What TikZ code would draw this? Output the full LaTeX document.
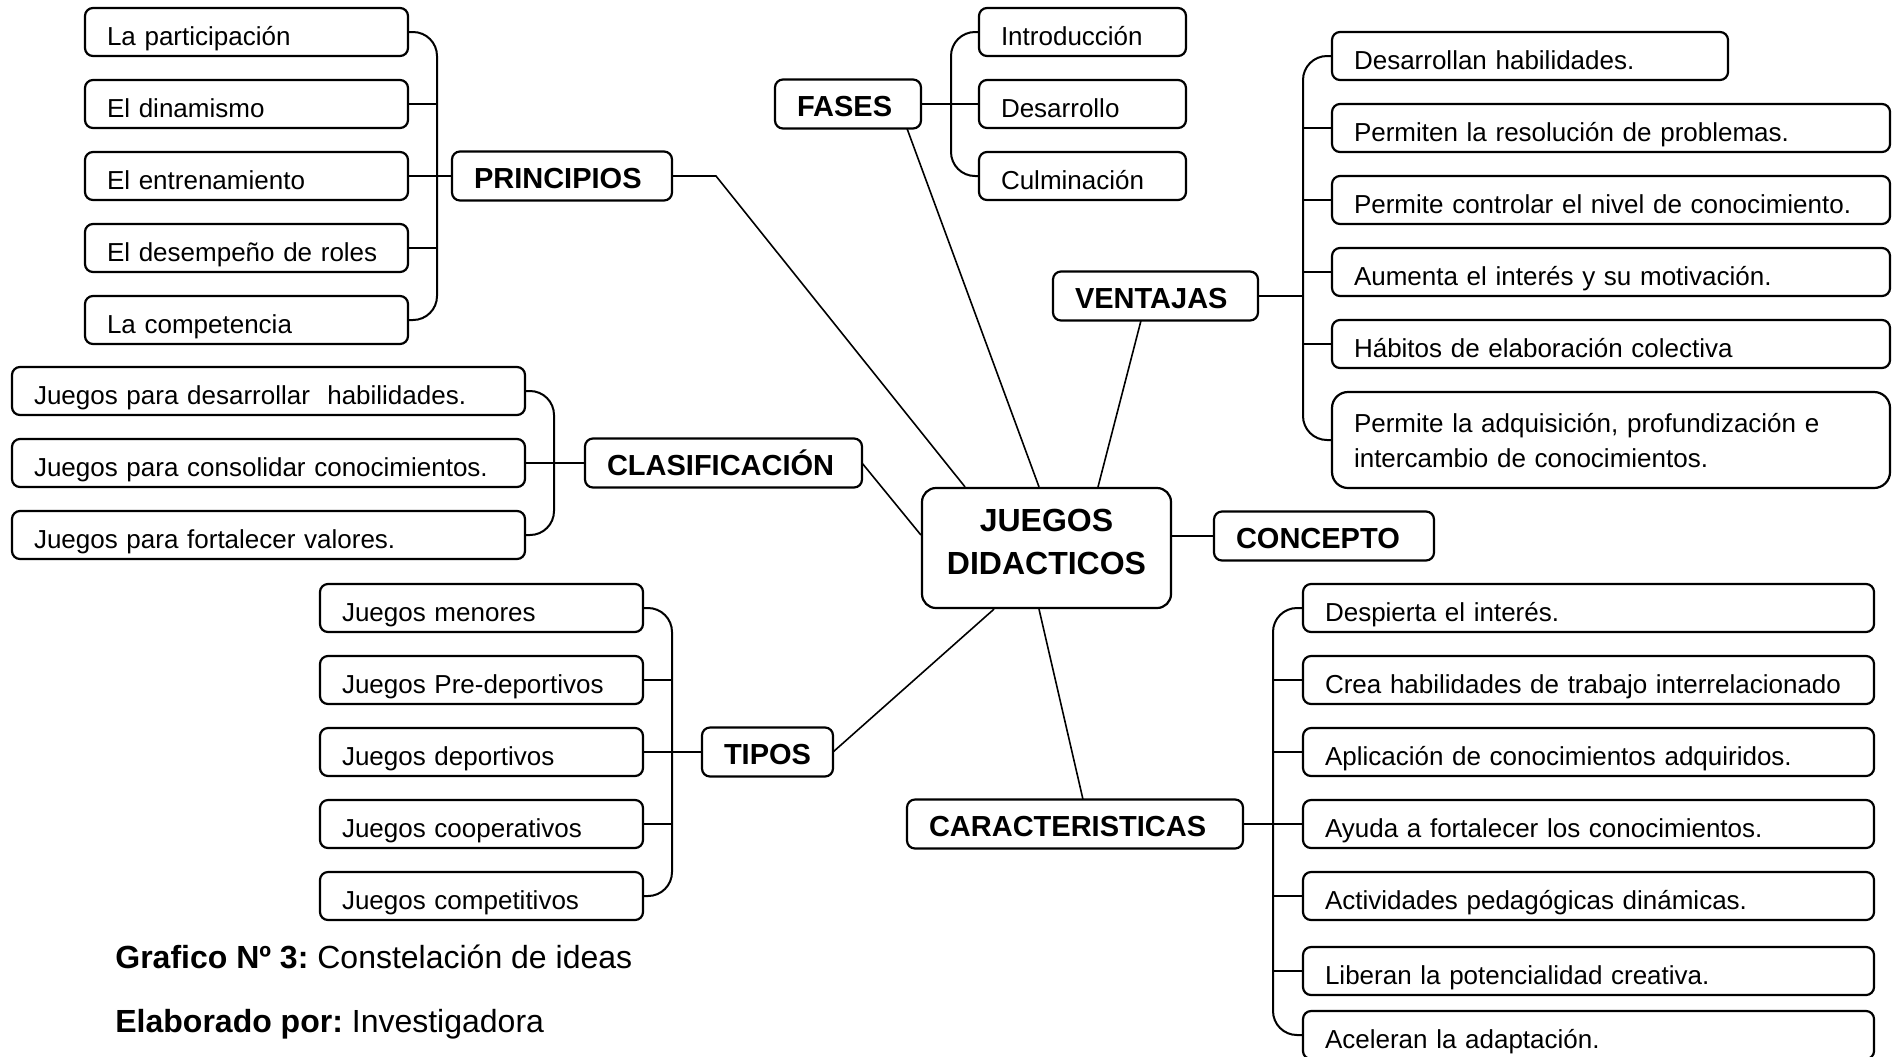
\documentclass[tikz,border=0pt]{standalone}
\usepackage{fontspec}
\setmainfont{Liberation Sans}
\frenchspacing

% one unit = one pixel of a 1898 x 1056 sheet, y grows downwards
\tikzset{
  box/.style={draw, line width=1.1pt, rounded corners=4pt, inner xsep=11pt,
    inner ysep=0pt, outer sep=0pt, text depth=5.5pt, align=left,
    font=\fontsize{13}{17.5}\selectfont},
  head/.style={font=\bfseries\fontsize{14.5}{17}\selectfont, text depth=6pt},
  hub/.style={draw, line width=1.1pt, rounded corners=7pt, inner sep=0pt,
    minimum width=124.5pt, minimum height=60pt},
  hubtext/.style={align=center, font=\bfseries\fontsize{16}{21.5}\selectfont},
  link/.style={line width=0.8pt},
  stub/.style={line width=1pt},
  brace/.style={line width=1pt, rounded corners=12pt},
  caption/.style={anchor=base west, inner sep=0pt, font=\fontsize{16}{19}\selectfont},
}

% \leaf[style]{name}{x1}{y1}{x2}{y2}{text}: a rounded box with left-set text
\newcommand\leaf[7][]{%
  \pgfmathsetmacro\boxTW{(#5-#3-44)*0.5}%
  \pgfmathsetmacro\boxTH{(#6-#4-11)*0.5}%
  \node[box, text width=\boxTW pt, text height=\boxTH pt, #1] (#2)
    at ({(#3+#5)/2},{(#4+#6)/2}) {#7};%
}

\begin{document}
\begin{tikzpicture}[x=0.5pt, y=-0.5pt]
\useasboundingbox (0,0) rectangle (1898,1056);
\clip (0,0) rectangle (1898,1056);

% central node
\node[hub] (J) at (1046.5,548) {};
\node[hubtext, yshift=3pt] (Jt) at (J) {JUEGOS\\DIDACTICOS};

% PRINCIPIOS
\leaf[head]{P}{452}{152}{672}{200}{PRINCIPIOS}
\leaf{p1}{85}{8}{408}{56}{La participación}
\leaf{p2}{85}{80}{408}{128}{El dinamismo}
\leaf{p3}{85}{152}{408}{200}{El entrenamiento}
\leaf{p4}{85}{224}{408}{272}{El desempeño de roles}
\leaf{p5}{85}{296}{408}{344}{La competencia}
\coordinate (pb) at (437,176);
\draw[brace] (p1.east) -| (pb) |- (p5.east);
\foreach \i in {2,4} \draw[stub] (p\i.east) -- (p\i.east -| pb);
\draw[stub] (p3.east) -- (P.west);

% FASES
\leaf[head]{F}{775}{80}{921}{128}{FASES}
\leaf{f1}{979}{8}{1186}{56}{Introducción}
\leaf{f2}{979}{80}{1186}{128}{Desarrollo}
\leaf{f3}{979}{152}{1186}{200}{Culminación}
\coordinate (fb) at (951,104);
\draw[brace] (f1.west) -| (fb) |- (f3.west);
\draw[stub] (F.east) -- (f2.west);

% VENTAJAS
\leaf[head]{V}{1053}{272}{1258}{320}{VENTAJAS}
\leaf{v1}{1332}{32}{1728}{80}{Desarrollan habilidades.}
\leaf{v2}{1332}{104}{1890}{152}{Permiten la resolución de problemas.}
\leaf{v3}{1332}{176}{1890}{224}{Permite controlar el nivel de conocimiento.}
\leaf{v4}{1332}{248}{1890}{296}{Aumenta el interés y su motivación.}
\leaf{v5}{1332}{320}{1890}{368}{Hábitos de elaboración colectiva}
\leaf[rounded corners=8pt, text height=20pt, text depth=28pt]{v6}{1332}{392}{1890}{488}{Permite la adquisición, profundización e intercambio de conocimientos.}
\coordinate (vb) at (1303,296);
\draw[brace] (v1.west) -| (vb) |- (v6.west);
\foreach \i in {2,...,5} \draw[stub] (v\i.west) -- (v\i.west -| vb);
\draw[stub] (V.east) -- (vb);

% CLASIFICACION
\leaf[head]{CL}{585}{439}{862}{487}{CLASIFICACIÓN}
\leaf{c1}{12}{367}{525}{415}{Juegos para desarrollar\ \ habilidades.}
\leaf{c2}{12}{439}{525}{487}{Juegos para consolidar conocimientos.}
\leaf{c3}{12}{511}{525}{559}{Juegos para fortalecer valores.}
\coordinate (cb) at (554,463);
\draw[brace] (c1.east) -| (cb) |- (c3.east);
\draw[stub] (c2.east) -- (CL.west);

% CONCEPTO
\leaf[head]{CO}{1214}{512}{1434}{560}{CONCEPTO}

% TIPOS
\leaf[head]{T}{702}{728}{833}{776}{TIPOS}
\leaf{t1}{320}{584}{643}{632}{Juegos menores}
\leaf{t2}{320}{656}{643}{704}{Juegos Pre-deportivos}
\leaf{t3}{320}{728}{643}{776}{Juegos deportivos}
\leaf{t4}{320}{800}{643}{848}{Juegos cooperativos}
\leaf{t5}{320}{872}{643}{920}{Juegos competitivos}
\coordinate (tb) at (672,752);
\draw[brace] (t1.east) -| (tb) |- (t5.east);
\foreach \i in {2,4} \draw[stub] (t\i.east) -- (t\i.east -| tb);
\draw[stub] (t3.east) -- (T.west);

% CARACTERISTICAS
\leaf[head]{CA}{907}{800}{1243}{848}{CARACTERISTICAS}
\leaf{k1}{1303}{584}{1874}{632}{Despierta el interés.}
\leaf{k2}{1303}{656}{1874}{704}{Crea habilidades de trabajo interrelacionado}
\leaf{k3}{1303}{728}{1874}{776}{Aplicación de conocimientos adquiridos.}
\leaf{k4}{1303}{800}{1874}{848}{Ayuda a fortalecer los conocimientos.}
\leaf{k5}{1303}{872}{1874}{920}{Actividades pedagógicas dinámicas.}
\leaf{k6}{1303}{947}{1874}{995}{Liberan la potencialidad creativa.}
\leaf{k7}{1303}{1011}{1874}{1059}{Aceleran la adaptación.}
\coordinate (kb) at (1273,824);
\draw[brace] (k1.west) -| (kb) |- (k7.west);
\foreach \i in {2,3,5,6} \draw[stub] (k\i.west) -- (k\i.west -| kb);
\draw[stub] (CA.east) -- (k4.west);

% branches to the central node
\draw[link] (P.east) -- ++(44,0) -- (965,0 |- J.north);
\draw[link] (907,0 |- F.south) -- (1039,0 |- J.north);
\draw[link] (1141,0 |- V.south) -- (1098,0 |- J.north);
\draw[link] (CL.east) -- (J.west |- 0,535);
\draw[stub] (J.east |- CO.west) -- (CO.west);
\draw[link] (T.east) -- (994,0 |- J.south);
\draw[link] (1039,0 |- J.south) -- (1083,0 |- CA.north);

% caption
\node[caption] (cap1) at (115,968) {\textbf{Grafico Nº 3:} Constelación de ideas};
\node[caption] (cap2) at (115,1032) {\textbf{Elaborado por:} Investigadora};
\end{tikzpicture}
\end{document}
